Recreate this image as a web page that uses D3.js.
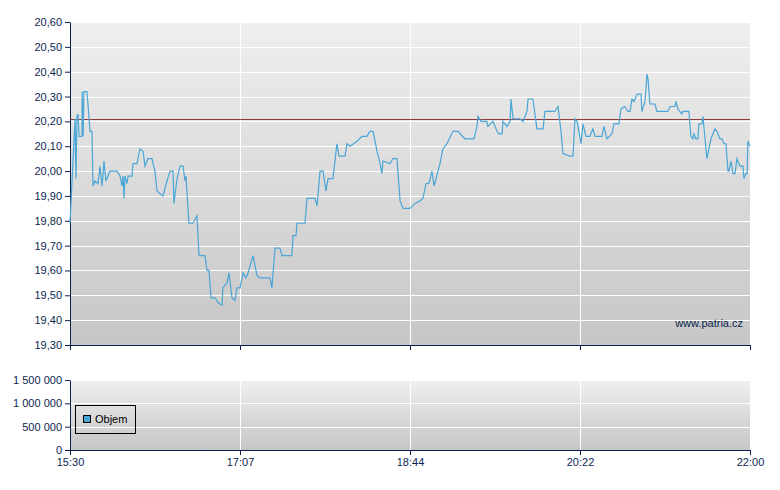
<!DOCTYPE html>
<html><head><meta charset="utf-8">
<script src="https://cdn.jsdelivr.net/npm/d3@7"></script>
<style>body{margin:0;background:#fff}svg{font-family:"Liberation Sans",Arial,sans-serif}</style>
</head><body><svg id="c" width="780" height="490"></svg>
<script>
const minutes=[0,2.9,3.4,4,4.6,5.2,6.9,6.95,7.5,8,9.7,10.3,11.5,12.6,13.2,14.3,16.1,17.2,18.4,19.5,20.6,21.8,22.9,27,28.7,29.8,30.4,31,31.5,32.7,33.3,35.6,36.1,38.4,40.1,41.9,43,44.7,47,48.7,49.9,51.6,53.3,55.6,57.4,59.1,59.6,61.4,63.1,64.8,66,66.5,68.2,70.5,72.8,74,77.4,78.6,79.7,80.9,83.2,84.9,87.2,87.7,90,91.2,92.9,94.6,95.8,97.5,99.2,100.9,102.1,105,107.2,109,114.7,115.8,117.6,120.4,121.6,127.3,127.9,129.6,130.2,134.8,135.9,140.5,141.7,143.4,145.1,146.8,148,150.8,153.1,154.3,157.7,158.9,160.6,164.6,167.5,170.3,172,173.8,176.1,177.8,178.9,179.5,183.5,185.2,187.5,189.3,191,193.8,195,197.9,200.7,202.4,204.2,205.9,207.6,208.8,212.2,213.9,216.2,219.6,222.5,226.5,231.7,233.4,234,235.7,239.1,239.7,242.6,244.9,246,247.8,248.3,250.6,252.4,252.9,254.1,258.1,259.8,262.1,262.7,265.5,267.8,271.3,272.4,278.1,279.9,281.6,282.7,286.8,288.5,289.6,290.8,293.1,294.2,295.9,298.2,299.9,301.1,305.1,306.2,308,310.8,312,314.8,316,318.3,320,321.2,322.3,323.5,325.2,327.5,328,329.8,330.9,331.5,332.6,335.5,336.6,342.9,344.1,346.9,347.5,348.6,350.9,351.5,354.9,356.1,357.3,357.8,359,360.1,360.7,362.4,363,364.2,365.3,367.6,369.9,371,372.8,373.9,375.1,376.2,377.4,377.9,379.1,380.2,381.4,382.5,384.2,385.4,386,386.5,387.7,388.3,388.8,390];
const prices=[19.79,20.21,19.97,20.22,20.23,20.14,20.14,20.32,20.14,20.32,20.32,20.27,20.16,20.16,19.94,19.96,19.95,20.02,19.94,20.04,19.96,19.98,20.00,20.00,19.98,19.94,19.98,19.89,19.98,19.95,19.98,19.98,20.03,20.03,20.09,20.08,20.02,20.05,20.05,20.00,19.92,19.91,19.90,19.96,20.00,20.00,19.87,19.97,20.02,20.02,19.96,19.98,19.79,19.79,19.82,19.66,19.66,19.60,19.60,19.49,19.49,19.47,19.46,19.53,19.55,19.59,19.49,19.48,19.53,19.53,19.59,19.57,19.59,19.66,19.58,19.57,19.57,19.53,19.69,19.69,19.66,19.66,19.74,19.74,19.79,19.79,19.89,19.89,19.86,20.00,20.00,19.92,19.97,19.97,20.11,20.06,20.06,20.11,20.10,20.12,20.14,20.14,20.16,20.16,20.08,20.03,19.99,20.04,20.03,20.05,20.05,19.88,19.85,19.85,19.85,19.87,19.88,19.89,19.95,19.95,20.00,19.94,20.03,20.09,20.11,20.16,20.16,20.13,20.13,20.18,20.22,20.20,20.20,20.18,20.20,20.16,20.15,20.15,20.20,20.18,20.20,20.29,20.21,20.21,20.20,20.24,20.29,20.29,20.17,20.17,20.24,20.24,20.26,20.16,20.07,20.06,20.06,20.21,20.20,20.11,20.19,20.14,20.14,20.17,20.14,20.14,20.18,20.13,20.15,20.19,20.19,20.25,20.26,20.24,20.24,20.29,20.28,20.31,20.31,20.24,20.28,20.39,20.37,20.27,20.27,20.24,20.24,20.26,20.26,20.28,20.25,20.23,20.24,20.24,20.14,20.13,20.15,20.13,20.13,20.19,20.19,20.22,20.13,20.05,20.13,20.17,20.16,20.13,20.13,20.11,20.11,20.00,20.00,20.04,19.99,19.99,20.05,20.02,20.02,20.02,19.97,19.99,19.99,20.12,20.10,20.20];
const refPrice=20.21;
const volMinutes=[78,263];
const volValues=[12000,9000];
const xTickLabels=["15:30","17:07","18:44","20:22","22:00"];
const priceTicks=d3.range(19.3,20.601,0.1);
const volTicks=[0,500000,1000000,1500000];

const svg=d3.select("#c");
const L=70,R=750,T=22,B=345,VT=380,VB=450;
const ink="#0c1f4f";
const defs=svg.append("defs");
const g=defs.append("linearGradient").attr("id","bg").attr("x1",0).attr("y1",0).attr("x2",0).attr("y2",1);
g.append("stop").attr("offset",0).attr("stop-color","#efefef");
g.append("stop").attr("offset",1).attr("stop-color","#c6c6c6");

const x=d3.scaleLinear().domain([0,390]).range([L,R]);
const y=d3.scaleLinear().domain([19.3,20.6]).range([B,T]);
const yv=d3.scaleLinear().domain([0,1500000]).range([VB,VT]);
const fmtV=d=>d3.format(",")(d).replace(/,/g," ");
const fmtP=d=>d3.format(".2f")(d).replace(".",",");
const xTickVals=[0,97.5,195,292.5,390];

function panel(top,bot,yScale,ticks,fmt,xfmt){
  svg.append("rect").attr("x",L).attr("y",top).attr("width",R-L).attr("height",bot-top).attr("fill","url(#bg)");
  ticks.forEach(t=>{svg.append("line").attr("x1",L).attr("x2",R).attr("y1",Math.round(yScale(t))+.5).attr("y2",Math.round(yScale(t))+.5).attr("stroke","#fff");});
  [1,2,3].forEach(i=>{const px=Math.round(x(xTickVals[i]))+.5;svg.append("line").attr("x1",px).attr("x2",px).attr("y1",top).attr("y2",bot).attr("stroke","#fff");});
  const ax=svg.append("g").attr("transform",`translate(${L},0)`).call(d3.axisLeft(yScale).tickValues(ticks).tickFormat(fmt).tickSize(5).tickSizeOuter(0));
  ax.selectAll("path,line").attr("stroke",ink);
  ax.selectAll("text").attr("fill",ink).attr("font-size",11).attr("font-family","Liberation Sans, Arial");
  const bx=svg.append("g").attr("transform",`translate(0,${bot})`).call(d3.axisBottom(x).tickValues(xTickVals).tickFormat(xfmt).tickSize(5).tickSizeOuter(0));
  bx.selectAll("path,line").attr("stroke",ink);
  bx.selectAll("text").attr("fill",ink).attr("font-size",11).attr("font-family","Liberation Sans, Arial");
}
panel(T,B,y,priceTicks,fmtP,()=>"");
panel(VT,VB,yv,volTicks,fmtV,(d,i)=>xTickLabels[i]);

svg.append("line").attr("x1",L).attr("x2",R).attr("y1",Math.round(y(refPrice))+.5).attr("y2",Math.round(y(refPrice))+.5).attr("stroke","#8c3a3a").attr("stroke-width",1);

const pts=minutes.map((m,i)=>[m,prices[i]]);
svg.append("path").attr("d",d3.line().x(d=>x(d[0])).y(d=>y(d[1]))(pts)).attr("fill","none").attr("stroke","#4aa6d6").attr("stroke-width",1.2);

svg.selectAll(".vb").data(volMinutes).enter().append("line").attr("x1",d=>x(d)).attr("x2",d=>x(d)).attr("y1",VB).attr("y2",(d,i)=>yv(volValues[i])).attr("stroke","#4aa6d6");

svg.append("text").attr("x",743).attr("y",327).attr("text-anchor","end").attr("font-size",11).attr("fill",ink).text("www.patria.cz");

svg.append("rect").attr("x",75.5).attr("y",405.5).attr("width",60).attr("height",28).attr("fill","none").attr("stroke","#000");
svg.append("rect").attr("x",83.5).attr("y",415.5).attr("width",7).attr("height",7).attr("fill","#4aa6d6").attr("stroke","#000");
svg.append("text").attr("x",95).attr("y",423).attr("font-size",11).attr("fill","#000").text("Objem");
</script></body></html>
